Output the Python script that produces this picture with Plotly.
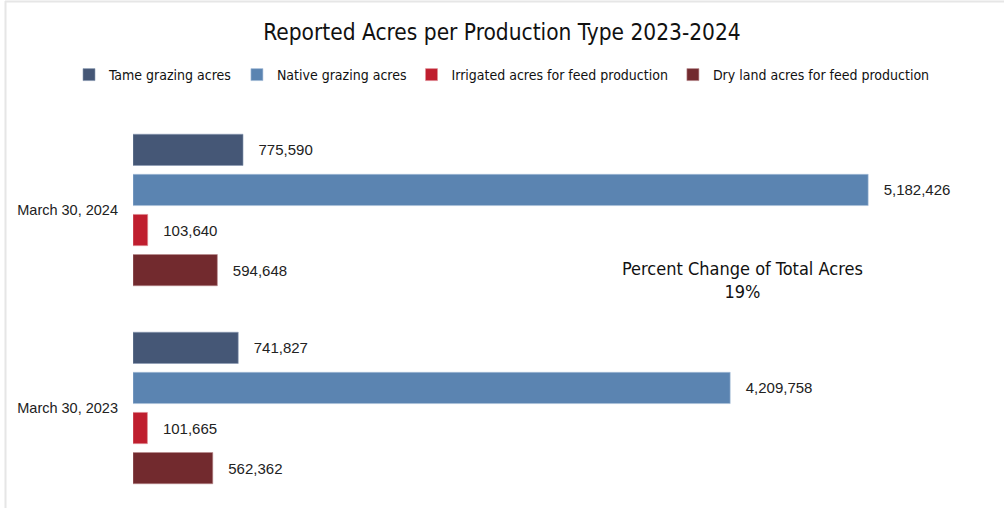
import plotly.graph_objects as go

categories = ["March 30, 2024", "March 30, 2023"]
series_names = ["Tame grazing acres", "Native grazing acres",
                "Irrigated acres for feed production", "Dry land acres for feed production"]
tame = [775590, 741827]
native = [5182426, 4209758]
irrigated = [103640, 101665]
dryland = [594648, 562362]
colors = ["#455776", "#5B84B1", "#BF1E2E", "#722A2E"]
edge_colors = ["#8A9AB4", "#A9C0DA", "#E09098", "#B88A8D"]
percent_change = "19%"

W, H = 1004, 508
ML, MR, MT, MB = 133, 0, 111, 1
PW = W - ML - MR
PH = H - MT - MB
NARROW = "DejaVu Sans Condensed, Liberation Sans Narrow, sans-serif"
SANS = "Liberation Sans, Arial, sans-serif"

fig = go.Figure()
for name, vals, col, ec in zip(series_names, [tame, native, irrigated, dryland], colors, edge_colors):
    fig.add_trace(go.Bar(
        y=categories, x=vals, name=name, orientation="h",
        marker=dict(color=col, line=dict(color=ec, width=0.6)),
        texttemplate="\u00a0\u00a0\u00a0%{x:,}", textposition="outside",
        textfont=dict(family=SANS, size=15, color="#222222"),
        constraintext="none", cliponaxis=False,
    ))

fig.update_layout(
    width=W, height=H,
    margin=dict(l=ML, r=MR, t=MT, b=MB),
    paper_bgcolor="white", plot_bgcolor="white",
    barmode="group", bargap=0.19, bargroupgap=0.22,
    title=dict(text="Reported Acres per Production Type 2023-2024",
               x=0.5, xref="container", xanchor="center",
               y=1 - 32 / H, yref="container", yanchor="middle",
               font=dict(family=NARROW, size=22.5, color="#111111")),
    legend=dict(orientation="h", x=0.5, xref="container", xanchor="center",
                y=1 - 75 / H, yref="container", yanchor="middle",
                font=dict(family=NARROW, size=14, color="#111111"),
                traceorder="normal", itemwidth=30),
    xaxis=dict(range=[0, 6140000], showticklabels=False, showgrid=False, zeroline=False,
               showline=False, ticks=""),
    yaxis=dict(autorange="reversed", categoryorder="array", categoryarray=categories,
               showgrid=False, zeroline=False, showline=False, ticks="",
               ticklabelstandoff=14,
               tickfont=dict(family=SANS, size=14.5, color="#222222")),
    showlegend=True,
)

fig.add_annotation(
    text="Percent Change of Total Acres<br>" + percent_change,
    xref="paper", yref="paper",
    x=(742 - ML) / PW, y=(H - MB - 280) / PH,
    xanchor="center", yanchor="middle", showarrow=False, align="center",
    font=dict(family=NARROW, size=18, color="#111111"),
)

# light chart border (top and left)
fig.add_shape(type="line", xref="paper", yref="paper",
              x0=(5 - ML) / PW, x1=(W - ML) / PW, y0=(H - MB - 1.5) / PH, y1=(H - MB - 1.5) / PH,
              line=dict(color="#E6E6E6", width=2))
fig.add_shape(type="line", xref="paper", yref="paper",
              x0=(5.5 - ML) / PW, x1=(5.5 - ML) / PW, y0=(H - MB - 1) / PH, y1=(H - MB - H) / PH,
              line=dict(color="#E6E6E6", width=2))

fig.write_html("out.html")
